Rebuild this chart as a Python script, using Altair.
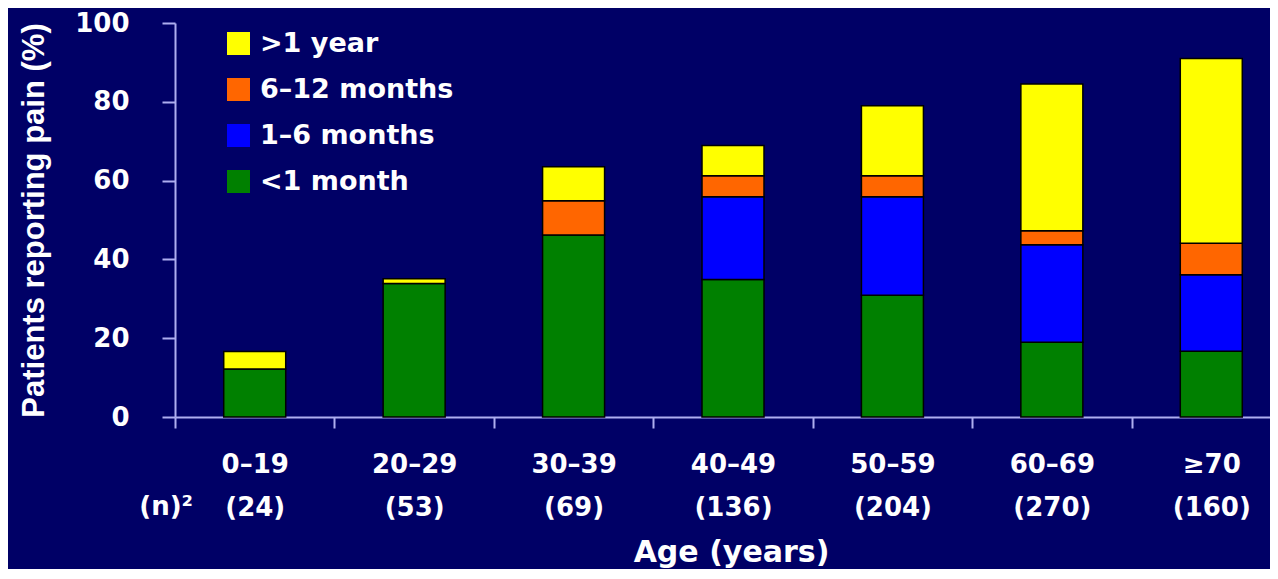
import altair as alt
import pandas as pd

# ---- data ----
age_groups = ["0–19", "20–29", "30–39", "40–49", "50–59", "60–69", "≥70"]
n_counts = [24, 53, 69, 136, 204, 270, 160]

durations = [">1 year", "6–12 months", "1–6 months", "<1 month"]
colors = ["#FFFF00", "#FF6600", "#0000FF", "#008000"]

lt_1_month = [12.2, 33.9, 46.2, 34.9, 30.9, 19.0, 16.7]
m1_6 = [0.0, 0.0, 0.0, 21.0, 25.0, 24.7, 19.4]
m6_12 = [0.0, 0.0, 8.7, 5.3, 5.3, 3.6, 8.0]
gt_1_year = [4.4, 1.2, 8.6, 7.7, 17.8, 37.2, 46.9]

series = {
    "<1 month": lt_1_month,
    "1–6 months": m1_6,
    "6–12 months": m6_12,
    ">1 year": gt_1_year,
}
stack_rank = {"<1 month": 0, "1–6 months": 1, "6–12 months": 2, ">1 year": 3}

rows = []
for i, g in enumerate(age_groups):
    lab = f"{g}|({n_counts[i]})"
    for d, vals in series.items():
        if vals[i] > 0:
            rows.append({"age": lab, "duration": d, "value": vals[i], "rank": stack_rank[d]})
df = pd.DataFrame(rows)
x_order = [f"{g}|({n})" for g, n in zip(age_groups, n_counts)]

FONT = "DejaVu Sans"
AXIS_COLOR = "#AEAEF0"

bars = alt.Chart(df).mark_bar(size=62, stroke="black", strokeWidth=1.5).encode(
    x=alt.X(
        "age:N",
        sort=x_order,
        scale=alt.Scale(paddingInner=0, paddingOuter=0, range=[0, 1116]),
        axis=alt.Axis(
            title="Age (years)",
            labelExpr="split(datum.label, '|')",
            labelAngle=0,
            tickBand="extent",
            tickSize=11,
            tickWidth=2,
            tickColor=AXIS_COLOR,
            domainColor=AXIS_COLOR,
            domainWidth=2,
            labelColor="white",
            labelFont=FONT,
            labelFontWeight="bold",
            labelFontSize=26,
            labelLineHeight=43,
            labelPadding=23,
            titleColor="white",
            titleFont=FONT,
            titleFontWeight="bold",
            titleFontSize=30,
            titleX=556,
            titleY=144,
            titleAlign="center",
            titleBaseline="alphabetic",
        ),
    ),
    y=alt.Y(
        "value:Q",
        stack="zero",
        scale=alt.Scale(domain=[0, 100], nice=False),
        axis=alt.Axis(
            title="Patients reporting pain (%)",
            values=[0, 20, 40, 60, 80, 100],
            grid=False,
            tickSize=13,
            tickWidth=2,
            tickColor=AXIS_COLOR,
            domainColor=AXIS_COLOR,
            domainWidth=2,
            labelColor="white",
            labelFont=FONT,
            labelFontWeight="bold",
            labelFontSize=26,
            labelPadding=33,
            labelBaseline="middle",
            titleColor="white",
            titleFont="Liberation Sans",
            titleFontWeight="bold",
            titleFontSize=31,
            titleX=-132,
            titleY=197,
            titleAlign="center",
            titleBaseline="alphabetic",
        ),
    ),
    color=alt.Color(
        "duration:N",
        scale=alt.Scale(domain=durations, range=colors),
        legend=alt.Legend(
            title=None,
            orient="none",
            legendX=50,
            legendY=7,
            symbolType="square",
            symbolSize=529,
            symbolStrokeWidth=0,
            symbolOpacity=1,
            labelColor="white",
            labelFont=FONT,
            labelFontWeight="bold",
            labelFontSize=27,
            labelOffset=8,
            labelLimit=400,
            rowPadding=18,
        ),
    ),
    order=alt.Order("rank:Q", sort="ascending"),
)

n_label = alt.Chart(pd.DataFrame({"t": ["(n)²"]})).mark_text(
    align="right",
    baseline="alphabetic",
    font=FONT,
    fontWeight="bold",
    fontSize=26,
    color="white",
).encode(text="t:N", x=alt.value(18), y=alt.value(492))

chart = (
    alt.layer(bars, n_label)
    .properties(
        width=1095,
        height=394,
        autosize="none",
        padding={"left": 167, "top": 15, "right": 0, "bottom": 152},
        background="#000066",
    )
    .configure_view(strokeWidth=0)
)

chart.save("out.html", embed_options={"renderer": "svg", "actions": False})
